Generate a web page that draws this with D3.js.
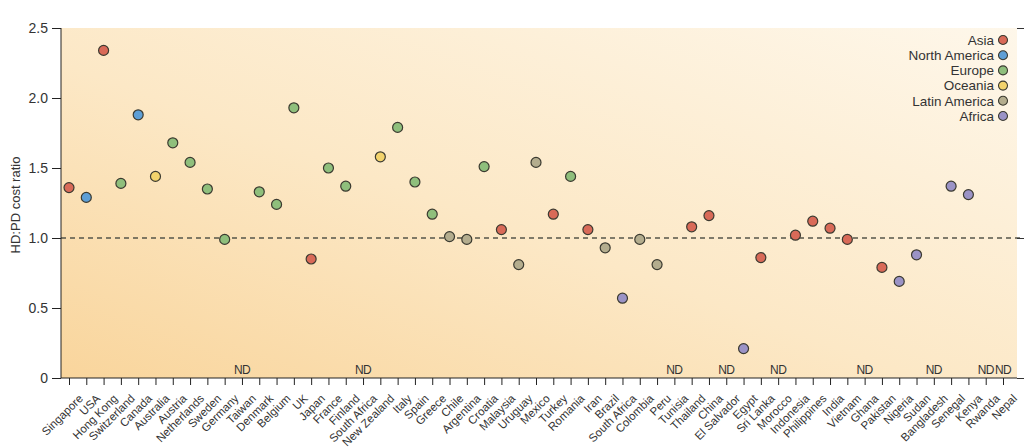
<!DOCTYPE html>
<html><head><meta charset="utf-8">
<script src="https://cdn.jsdelivr.net/npm/d3@7"></script>
<style>body{margin:0;background:#fff}svg{display:block}text{font-family:"Liberation Sans",Arial,sans-serif}</style>
</head><body>
<svg id="c" width="1024" height="448"></svg>
<script>
const countries = ["Singapore","USA","Hong Kong","Switzerland","Canada","Australia","Austria","Netherlands","Sweden","Germany","Taiwan","Denmark","Belgium","UK","Japan","France","Finland","South Africa","New Zealand","Italy","Spain","Greece","Chile","Argentina","Croatia","Malaysia","Uruguay","Mexico","Turkey","Romania","Iran","Brazil","South Africa","Colombia","Peru","Tunisia","Thailand","China","El Salvador","Egypt","Sri Lanka","Morocco","Indonesia","Philippines","India","Vietnam","Ghana","Pakistan","Nigeria","Sudan","Bangladesh","Senegal","Kenya","Rwanda","Nepal"];
const ratios = [1.36,1.29,2.34,1.39,1.88,1.44,1.68,1.54,1.35,0.99,null,1.33,1.24,1.93,0.85,1.50,1.37,null,1.58,1.79,1.40,1.17,1.01,0.99,1.51,1.06,0.81,1.54,1.17,1.44,1.06,0.93,0.57,0.99,0.81,null,1.08,1.16,null,0.21,0.86,null,1.02,1.12,1.07,0.99,null,0.79,0.69,0.88,null,1.37,1.31,null,null];
const regions = ["Asia","North America","Asia","Europe","North America","Oceania","Europe","Europe","Europe","Europe","Asia","Europe","Europe","Europe","Asia","Europe","Europe","Africa","Oceania","Europe","Europe","Europe","Latin America","Latin America","Europe","Asia","Latin America","Latin America","Asia","Europe","Asia","Latin America","Africa","Latin America","Latin America","Africa","Asia","Asia","Latin America","Africa","Asia","Africa","Asia","Asia","Asia","Asia","Africa","Asia","Africa","Africa","Asia","Africa","Africa","Africa","Asia"];
const legendRegions = ["Asia","North America","Europe","Oceania","Latin America","Africa"];
const regionColors = ["#d96a58","#5e9fd6","#8fbf7c","#f3d36c","#b4ad8e","#9b93c6"];
const yTicks = [0,0.5,1.0,1.5,2.0,2.5];

const svg = d3.select("#c");
const L=61, R=1017, T=28, B=378;
const x = d3.scalePoint().domain(d3.range(countries.length)).range([69,1003]);
const y = d3.scaleLinear().domain([0,2.5]).range([B,T]);
const color = d3.scaleOrdinal().domain(legendRegions).range(regionColors);

const defs = svg.append("defs");
const g = defs.append("linearGradient").attr("id","bg").attr("x1","0").attr("y1","1").attr("x2","1").attr("y2","0");
g.append("stop").attr("offset","0").attr("stop-color","#f9d59c");
g.append("stop").attr("offset","0.45").attr("stop-color","#fce8c6");
g.append("stop").attr("offset","1").attr("stop-color","#fef7ea");
svg.append("rect").attr("x",L).attr("y",T).attr("width",R-L).attr("height",B-T).attr("fill","url(#bg)");

// reference line
svg.append("line").attr("x1",L).attr("x2",R+6).attr("y1",y(1)).attr("y2",y(1))
  .attr("stroke","#55554a").attr("stroke-width",1.3).attr("stroke-dasharray","5,4");

// left axis
const ya = svg.append("g").attr("transform",`translate(${L},0)`)
  .call(d3.axisLeft(y).tickValues(yTicks).tickFormat(d=>d===0?"0":d3.format(".1f")(d)).tickSize(9).tickPadding(4));
ya.select(".domain").attr("d",`M0,${T}V${B}`).attr("stroke","#222");
ya.selectAll("line").attr("stroke","#222");
ya.selectAll("text").attr("font-size",14).attr("fill","#333");

// right ticks
const ra = svg.append("g").attr("transform",`translate(${R},0)`)
  .call(d3.axisRight(y).tickValues([0,1,2.5]).tickFormat("").tickSize(7));
ra.select(".domain").remove();
ra.selectAll("line").attr("stroke","#333");

// bottom axis
const xa = svg.append("g").attr("transform",`translate(0,${B})`)
  .call(d3.axisBottom(x).tickFormat(i=>countries[i]).tickSize(7).tickPadding(2));
xa.select(".domain").attr("d",`M${L},0H${R}`).attr("stroke","#222");
xa.selectAll("line").attr("stroke","#222");
xa.selectAll("text").attr("font-size",11.5).attr("fill","#333")
  .attr("text-anchor","end").attr("dy","0.35em")
  .attr("transform","translate(5,12) rotate(-45)");

// y label
svg.append("text").attr("transform","translate(20,205) rotate(-90)")
  .attr("text-anchor","middle").attr("font-size",13).attr("fill","#333").text("HD:PD cost ratio");

// ND labels
const idx = d3.range(countries.length);
svg.append("g").selectAll("text").data(idx.filter(i=>ratios[i]===null)).join("text")
  .attr("x",i=>x(i)).attr("y",B-4).attr("text-anchor","middle")
  .attr("font-size",12).attr("letter-spacing","-0.6").attr("fill","#333").text("ND");

// dots
svg.append("g").selectAll("circle").data(idx.filter(i=>ratios[i]!==null)).join("circle")
  .attr("cx",i=>x(i)).attr("cy",i=>y(ratios[i])).attr("r",5)
  .attr("fill",i=>color(regions[i])).attr("stroke","#3b3a30").attr("stroke-width",1.2);

// legend
const lg = svg.append("g").selectAll("g").data(legendRegions).join("g")
  .attr("transform",(d,i)=>`translate(1003,${40+i*15.2})`);
lg.append("circle").attr("r",4.5).attr("fill",d=>color(d)).attr("stroke","#3b3a30").attr("stroke-width",1.1);
lg.append("text").attr("x",-9).attr("dy","0.35em").attr("text-anchor","end")
  .attr("font-size",13.5).attr("fill","#333").text(d=>d);
</script>
</body></html>
